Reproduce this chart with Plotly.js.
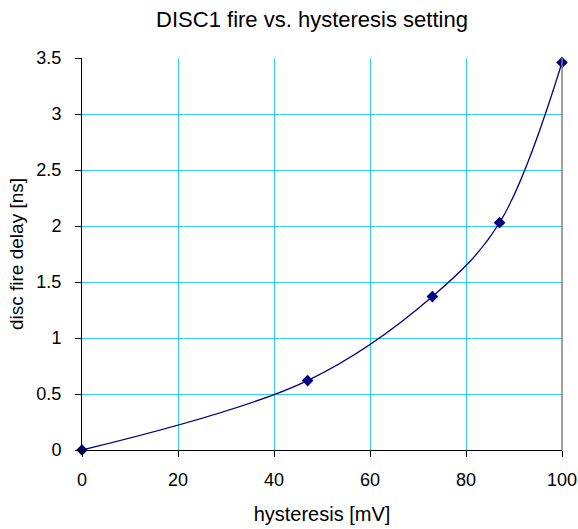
<!DOCTYPE html>
<html>
<head>
<meta charset="utf-8">
<script src="https://cdn.plot.ly/plotly-3.0.1.min.js"></script>
<style>
  html, body { margin: 0; padding: 0; background: #fff; }
  #chart { width: 578px; height: 529px; }
</style>
</head>
<body>
<div id="chart"></div>
<script>
// Hysteresis setting [mV] and measured discriminator fire delay [ns]
const hysteresis = [0, 47, 73, 87, 100];
const fireDelay = [0, 0.62, 1.37, 2.03, 3.46];

const xTicks = [0, 20, 40, 60, 80, 100];
const yTicks = [0, 0.5, 1, 1.5, 2, 2.5, 3, 3.5];

const navy = '#000080';
const gridCyan = '#33ccff';
const font = 'Liberation Sans, Arial, sans-serif';

const trace = {
  x: hysteresis,
  y: fireDelay,
  type: 'scatter',
  mode: 'lines+markers',
  line: { color: navy, width: 1.3, shape: 'spline', smoothing: 1 },
  marker: { symbol: 'diamond', color: navy, size: 9 },
  cliponaxis: false,
  hoverinfo: 'x+y'
};

const layout = {
  width: 578,
  height: 529,
  paper_bgcolor: '#ffffff',
  plot_bgcolor: '#ffffff',
  margin: { l: 82, r: 16, t: 58, b: 79 },
  showlegend: false,
  font: { family: font, color: '#000', size: 18 },
  title: {
    text: 'DISC1 fire vs. hysteresis setting',
    font: { family: font, size: 22, color: '#000' },
    x: 312 / 578, xref: 'container', xanchor: 'center',
    y: 1 - 19 / 529, yref: 'container', yanchor: 'middle'
  },
  xaxis: {
    range: [0, 100],
    tickvals: xTicks,
    ticktext: xTicks.map(String),
    showgrid: true, gridcolor: gridCyan, gridwidth: 1,
    zeroline: false,
    showline: true, linecolor: '#000', linewidth: 1,
    ticks: 'outside', ticklen: 6, tickcolor: '#000', tickwidth: 1,
    ticklabelstandoff: 7,
    tickfont: { family: font, size: 18, color: '#000' },
    title: { text: 'hysteresis [mV]', font: { family: font, size: 20, color: '#000' }, standoff: 18 },
    fixedrange: true
  },
  yaxis: {
    range: [0, 3.5],
    tickvals: yTicks,
    ticktext: yTicks.map(String),
    showgrid: true, gridcolor: gridCyan, gridwidth: 1,
    zeroline: false,
    showline: true, linecolor: '#000', linewidth: 1,
    ticks: 'outside', ticklen: 6, tickcolor: '#000', tickwidth: 1,
    ticklabelstandoff: 10,
    tickfont: { family: font, size: 18, color: '#000' },
    title: { text: 'disc fire delay [ns]', font: { family: font, size: 19, color: '#000' }, standoff: 7 },
    fixedrange: true
  },
  shapes: [
    // gray frame on the right edge of the plot area
    { type: 'line', xref: 'paper', yref: 'paper', x0: 1, x1: 1, y0: 0, y1: 1,
      line: { color: '#808080', width: 1.5 } }
  ]
};

Plotly.newPlot('chart', [trace], layout, { displayModeBar: false, staticPlot: true });
</script>
</body>
</html>
